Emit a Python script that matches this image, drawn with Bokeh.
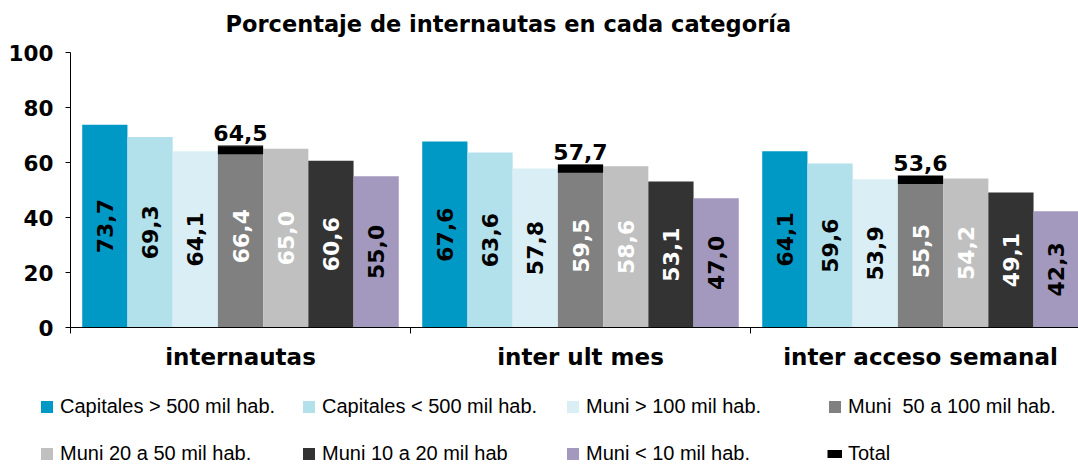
import numpy as np
from bokeh.plotting import figure
from bokeh.models import (ColumnDataSource, Legend, LegendItem, FixedTicker,
                          Range1d, LinearAxis, Label)
from bokeh.core.properties import value
from bokeh.embed import file_html
from bokeh.resources import INLINE

# ---------------- data ----------------
title_text = "Porcentaje de internautas en cada categoría"
categories = ["internautas", "inter ult mes", "inter acceso semanal"]
series_names = [
    "Capitales > 500 mil hab.",
    "Capitales < 500 mil hab.",
    "Muni > 100 mil hab.",
    "Muni  50 a 100 mil hab.",
    "Muni 20 a 50 mil hab.",
    "Muni 10 a 20 mil hab",
    "Muni < 10 mil hab.",
]
cap_gt500 = [73.7, 67.6, 64.1]
cap_lt500 = [69.3, 63.6, 59.6]
muni_gt100 = [64.1, 57.8, 53.9]
muni_50_100 = [66.4, 59.5, 55.5]
muni_20_50 = [65.0, 58.6, 54.2]
muni_10_20 = [60.6, 53.1, 49.1]
muni_lt10 = [55.0, 47.0, 42.3]
total = [64.5, 57.7, 53.6]
y_ticks = [0, 20, 40, 60, 80, 100]

series_values = [cap_gt500, cap_lt500, muni_gt100, muni_50_100, muni_20_50, muni_10_20, muni_lt10]
colors = ["#0099c6", "#b2e0eb", "#daeff5", "#808080", "#c0c0c0", "#333333", "#a399bf"]
label_colors = ["black", "black", "black", "white", "white", "white", "black"]

BOLD_FONT = "DejaVu Sans"


def fmt(v):
    return f"{v:.1f}".replace(".", ",")


BAR_W = 0.133
x_centers = np.arange(len(categories)) + 0.5

# the frame covers the whole canvas; axes are pinned inside it
W, H = 1078, 464
PX_X = 340.0          # pixels per category group
PX_Y = 2.75           # pixels per percentage point
AX_X = 70             # pixel column of the value axis
AX_TOP = 52           # pixel row of the value 100
x_start = -AX_X / PX_X
x_end = (W - AX_X) / PX_X
y_end = 100 + AX_TOP / PX_Y
y_start = y_end - H / PX_Y

p = figure(
    width=W, height=H,
    x_range=Range1d(x_start, x_end), y_range=Range1d(y_start, y_end),
    x_axis_location=None, y_axis_location=None,
    output_backend="svg", toolbar_location=None,
    min_border_left=0, min_border_right=0,
    min_border_top=0, min_border_bottom=0,
)
p.title.visible = False
p.grid.visible = False
p.outline_line_color = None
p.background_fill_color = "white"
p.border_fill_color = "white"

renderers = []
n = len(series_names)
for i, (name, vals, col, lc) in enumerate(zip(series_names, series_values, colors, label_colors)):
    xs = x_centers + (i - (n - 1) / 2) * BAR_W
    src = ColumnDataSource(dict(
        x=xs, top=vals, mid=[v / 2 for v in vals], lab=[fmt(v) for v in vals]
    ))
    r = p.vbar(x="x", top="top", width=BAR_W, source=src,
               fill_color=col, line_color=None)
    p.text(x="x", y="mid", text="lab", source=src, angle=np.pi / 2,
           text_align="center", text_baseline="middle",
           text_font=value(BOLD_FONT), text_font_style="bold",
           text_font_size="22px", text_color=lc)
    renderers.append(r)

tsrc = ColumnDataSource(dict(
    x0=x_centers - BAR_W / 2, x1=x_centers + BAR_W / 2, xm=x_centers,
    y=total, lab=[fmt(v) for v in total]
))
rt = p.segment(x0="x0", y0="y", x1="x1", y1="y", source=tsrc,
               line_color="black", line_width=8)
p.text(x="xm", y="y", text="lab", source=tsrc, y_offset=-17,
       text_align="center", text_baseline="alphabetic",
       text_font=value(BOLD_FONT), text_font_style="bold",
       text_font_size="22px", text_color="black")
renderers.append(rt)

# ---------------- axes ----------------
yaxis = LinearAxis(fixed_location=0, bounds=(0, 100),
                   ticker=FixedTicker(ticks=y_ticks))
yaxis.major_tick_out = 5
yaxis.major_tick_in = 0
yaxis.minor_tick_out = 0
yaxis.minor_tick_in = 0
yaxis.major_label_standoff = 12
yaxis.major_label_text_font = BOLD_FONT
yaxis.major_label_text_font_style = "bold"
yaxis.major_label_text_font_size = "21.5px"
yaxis.major_label_text_color = "black"
yaxis.axis_line_color = "black"
yaxis.major_tick_line_color = "black"
p.add_layout(yaxis, "left")

xaxis = LinearAxis(fixed_location=0, bounds=(0, 3),
                   ticker=FixedTicker(ticks=list(x_centers), minor_ticks=[0, 1, 2, 3]))
xaxis.major_label_overrides = {float(x): c for x, c in zip(x_centers, categories)}
xaxis.major_tick_out = 0
xaxis.major_tick_in = 0
xaxis.minor_tick_out = 6
xaxis.minor_tick_in = 0
xaxis.minor_tick_line_color = "black"
xaxis.major_label_standoff = 10
xaxis.major_label_text_font = BOLD_FONT
xaxis.major_label_text_font_style = "bold"
xaxis.major_label_text_font_size = "23px"
xaxis.major_label_text_color = "black"
xaxis.axis_line_color = "black"
p.add_layout(xaxis, "below")

# ---------------- title ----------------
p.add_layout(Label(
    x=(225 - AX_X) / PX_X, y=100 + (AX_TOP - 23) / PX_Y, text=title_text,
    text_align="left", text_baseline="alphabetic",
    text_font=BOLD_FONT, text_font_style="bold", text_font_size="22.5px",
    text_color="black",
))

# ---------------- legend (4 columns x 2 rows) ----------------
labels_all = series_names + ["Total"]
legend_cols = [[0, 4], [1, 5], [2, 6], [3, 7]]
legend_x = [39, 301, 565, 827]
for ids, vx in zip(legend_cols, legend_x):
    items = [LegendItem(label=labels_all[k], renderers=[renderers[k]]) for k in ids]
    leg = Legend(
        items=items, location=(vx, -4), orientation="vertical",
        glyph_width=15, glyph_height=15, label_standoff=6,
        label_height=30, spacing=17, padding=0, margin=0,
        border_line_color=None, background_fill_alpha=0,
        label_text_font="Liberation Sans", label_text_font_size="20px",
        label_text_color="black",
    )
    p.add_layout(leg, "center")

open("out.html", "w").write(file_html(p, INLINE))
